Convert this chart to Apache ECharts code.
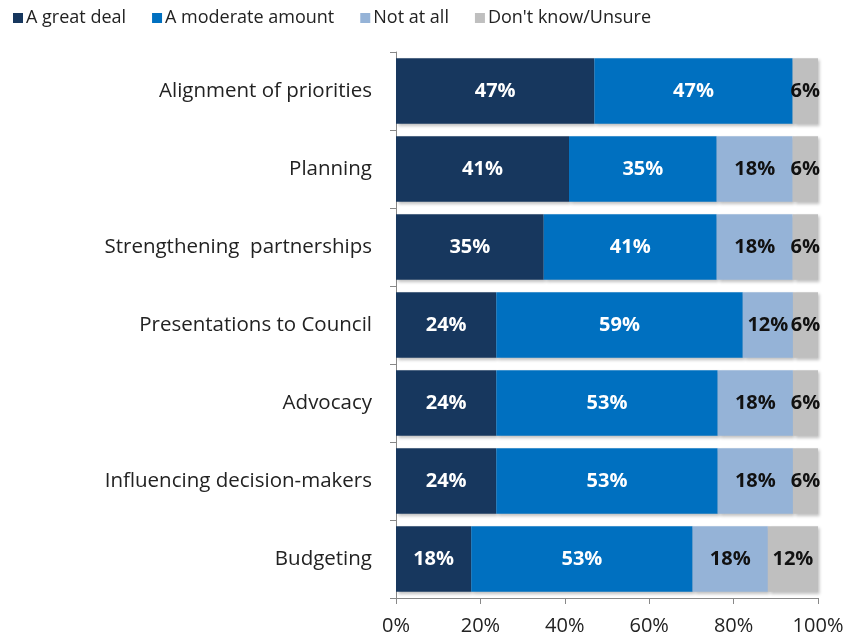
<!DOCTYPE html>
<html>
<head>
<meta charset="utf-8">
<script src="https://cdn.jsdelivr.net/npm/echarts@6/dist/echarts.min.js"></script>
<style>
  html, body { margin: 0; padding: 0; background: #fff; }
  #main { width: 852px; height: 638px; }
</style>
</head>
<body>
<div id="main"></div>
<script>
  // categories, top to bottom
  var categories = ['Alignment of priorities', 'Planning', 'Strengthening  partnerships',
    'Presentations to Council', 'Advocacy', 'Influencing decision-makers', 'Budgeting'];
  var greatDeal = [47, 41, 35, 24, 24, 24, 18];
  var moderate = [47, 35, 41, 59, 53, 53, 53];
  var notAtAll = [0, 18, 18, 12, 18, 18, 18];
  var dontKnow = [6, 6, 6, 6, 6, 6, 12];
  var tickLabels = ['0%', '20%', '40%', '60%', '80%', '100%'];

  var seriesNames = ['A great deal', 'A moderate amount', 'Not at all', "Don't know/Unsure"];
  var seriesData = [greatDeal, moderate, notAtAll, dontKnow];
  var colors = ['#17375E', '#0070C0', '#95B3D7', '#BFBFBF'];
  var labelColors = ['#fff', '#fff', '#111', '#111'];

  // 100% stacked: each row scaled to its total
  var totals = categories.map(function (c, i) {
    return greatDeal[i] + moderate[i] + notAtAll[i] + dontKnow[i];
  });

  var fontFam = 'Open Sans, Lato, sans-serif';
  var chart = echarts.init(document.getElementById('main'));

  var series = seriesData.map(function (arr, s) {
    return {
      name: seriesNames[s],
      type: 'bar',
      stack: 'total',
      barCategoryGap: '16%',
      itemStyle: {
        color: colors[s],
        shadowColor: 'rgba(0,0,0,0.25)',
        shadowBlur: 3,
        shadowOffsetX: 2,
        shadowOffsetY: 2
      },
      label: {
        show: true,
        position: 'inside',
        color: labelColors[s],
        fontFamily: fontFam,
        fontWeight: 'bold',
        fontSize: 20,
        formatter: function (p) {
          var raw = arr[p.dataIndex];
          return raw ? raw + '%' : '';
        }
      },
      data: arr.map(function (v, i) { return v / totals[i] * 100; })
    };
  });

  chart.setOption({
    animation: false,
    color: colors,
    legend: {
      left: 8,
      top: 4,
      itemWidth: 10,
      itemHeight: 10,
      itemGap: 26,
      icon: 'rect',
      textStyle: { fontFamily: fontFam, fontSize: 18, color: '#222', padding: [0, 0, 0, -2] },
      data: seriesNames
    },
    grid: { left: 396, right: 34, top: 52, bottom: 40, containLabel: false },
    xAxis: {
      type: 'value',
      min: 0,
      max: 100,
      interval: 20,
      axisLine: { show: true, lineStyle: { color: '#888' } },
      axisTick: { show: true, length: 6, lineStyle: { color: '#888' } },
      splitLine: { show: false },
      axisLabel: {
        fontFamily: fontFam, fontSize: 20, color: '#222', margin: 18,
        formatter: function (v) { return tickLabels[v / 20]; }
      }
    },
    yAxis: {
      type: 'category',
      inverse: true,
      data: categories,
      axisLine: { show: true, lineStyle: { color: '#888' } },
      axisTick: { show: true, length: 6, lineStyle: { color: '#888' } },
      axisLabel: { fontFamily: fontFam, fontSize: 20.5, color: '#222', margin: 24 }
    },
    series: series
  });
</script>
</body>
</html>
